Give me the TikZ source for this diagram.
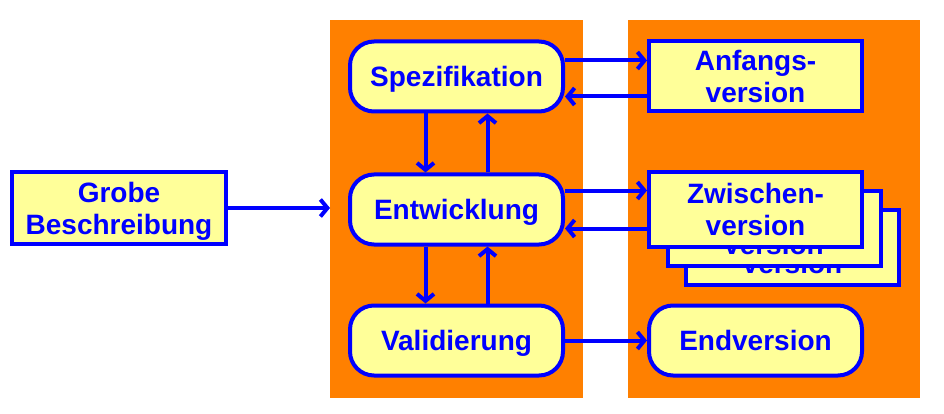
\documentclass[tikz,border=0pt]{standalone}
\usepackage{fontspec}
\setmainfont{Liberation Sans}
\usetikzlibrary{arrows.meta}
\definecolor{panelorange}{RGB}{255,128,0}
\definecolor{boxgelb}{RGB}{255,255,153}

\begin{document}
\begin{tikzpicture}[x=1pt, y=-1pt,
        >={Straight Barb[length=7pt,width=17pt]},
        box/.style={draw=blue, line width=4pt, fill=boxgelb, text=blue, align=center,
            font=\fontsize{28}{32}\selectfont\bfseries, inner sep=0pt, text depth=0pt,
            minimum width=213pt, minimum height=70pt},
        rbox/.style={box, rounded corners=24pt},
        panel/.style={fill=panelorange, inner sep=0pt, anchor=north west},
        pfeil/.style={->, draw=blue, line width=4pt}]
    \useasboundingbox (0,0) rectangle (944,414);
    % orange Hintergruende
    \node[panel, minimum width=253pt, minimum height=378pt] (links) at (330,20) {};
    \node[panel, minimum width=292pt, minimum height=378pt] (rechts) at (628,20) {};
    % Phasen
    \node[rbox] (spez) at (456.5,76.5) {Spezifikation};
    \node[rbox] (entw) at (456.5,209.5) {Entwicklung};
    \node[rbox] (valid) at (456.5,340.5) {Validierung};
    \node[box, minimum width=214pt, minimum height=72pt] (grob) at (119,208) {Grobe\\Beschreibung};
    % Versionen
    \node[box] (anfang) at (755.5,76.5) {Anfangs-\\version};
    \foreach \d in {2,1}
        \node[box, minimum height=75pt] (zwischen\d) at (755.5+18.5*\d,209.5+19*\d) {Zwischen-\\version};
    \node[box, minimum height=75pt] (zwischen) at (755.5,209.5) {Zwischen-\\version};
    \node[rbox] (endv) at (755.5,340.5) {Endversion};
    % Pfeile
    \draw[pfeil] (grob.east) -- (links.west |- grob.east);
    \draw[pfeil] ([yshift=16pt]spez.east) -- ([yshift=16pt]spez.east -| anfang.west);
    \draw[pfeil] ([yshift=-20pt]anfang.west) -- ([yshift=-20pt]anfang.west -| spez.east);
    \draw[pfeil] ([yshift=19pt]entw.east) -- ([yshift=19pt]entw.east -| zwischen.west);
    \draw[pfeil] ([yshift=-19pt]zwischen.west) -- ([yshift=-19pt]zwischen.west -| entw.east);
    \draw[pfeil] (valid.east) -- (endv.west);
    \draw[pfeil] ([xshift=-31pt]spez.south) -- ([xshift=-31pt]entw.north);
    \draw[pfeil] ([xshift=31pt]entw.north) -- ([xshift=31pt]spez.south);
    \draw[pfeil] ([xshift=-31pt]entw.south) -- ([xshift=-31pt]valid.north);
    \draw[pfeil] ([xshift=31pt]valid.north) -- ([xshift=31pt]entw.south);
\end{tikzpicture}
\end{document}
